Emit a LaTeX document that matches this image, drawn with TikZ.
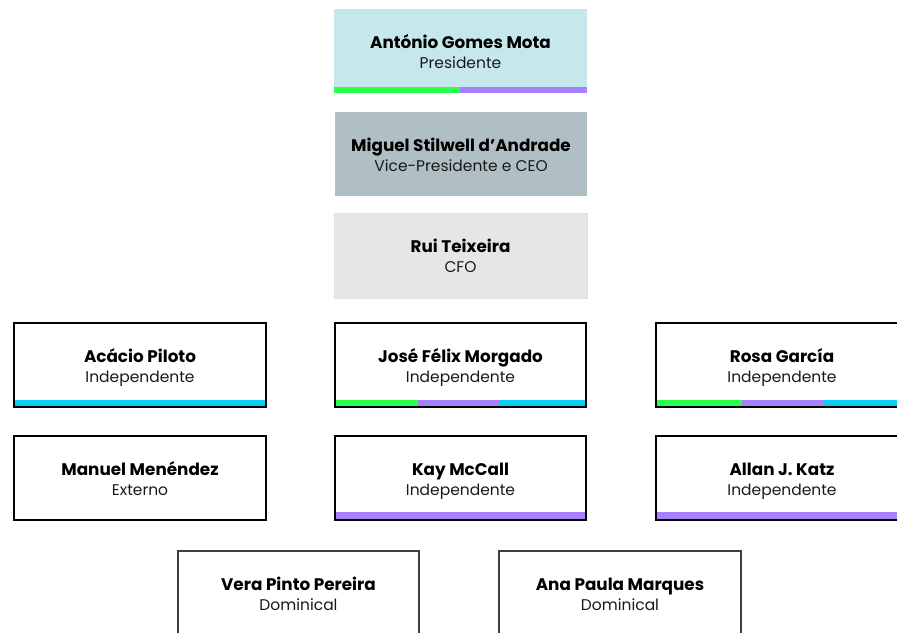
\documentclass[tikz,border=0pt]{standalone}
\usepackage{fontspec}
\setmainfont{Poppins}
\definecolor{topfill}{HTML}{C6E7EC}
\definecolor{vpfill}{HTML}{AFBFC3}
\definecolor{cfofill}{HTML}{E6E6E6}
\definecolor{bgreen}{HTML}{2BFF4C}
\definecolor{bpurple}{HTML}{A680FF}
\definecolor{bcyan}{HTML}{0ACDF2}
\definecolor{slate}{HTML}{36434B}
\newcommand\card[8]{% id, style, x, y, w, h, name, role
  \node[#2, anchor=north west, minimum width=#5pt, minimum height=#6pt,
        inner sep=0pt, outer sep=0pt] (#1) at (#3,#4) {};
  \node[nametext] (#1-name) at ([yshift=-39pt]#1.north) {#7};
  \node[roletext] (#1-role) at ([yshift=-59.5pt]#1.north) {#8};
}
\begin{document}
\begin{tikzpicture}[x=1pt,y=-1pt,
  nametext/.style={anchor=base, inner sep=0pt, font=\bfseries\fontsize{16.8}{19}\selectfont},
  roletext/.style={anchor=base, inner sep=0pt, font=\fontsize{15.5}{18}\selectfont, text=black!90},
  topbox/.style={fill=topfill},
  vpbox/.style={fill=vpfill},
  cfobox/.style={fill=cfofill, draw=black!12, line width=0.6pt},
  member/.style={fill=white, draw=black, line width=2pt},
  dommember/.style={fill=white, draw=slate, line width=2pt}]
\useasboundingbox (0,0) rectangle (897,632);
\clip (0,0) rectangle (897,632);

% top three
\card{pres}{topbox}{334}{9}{253}{84}{António Gomes Mota}{Presidente}
\fill[bgreen] (334,87) rectangle (460,93);
\fill[bpurple] (460,87) rectangle (587,93);
\card{vp}{vpbox}{335}{112}{252}{84}{Miguel Stilwell d’Andrade}{Vice-Presidente e CEO}
\card{cfo}{cfobox}{334}{213}{253}{85}{Rui Teixeira}{CFO}

% row 1
\card{acacio}{member}{14}{323}{252}{84}{Acácio Piloto}{Independente}
\fill[bcyan] (15,400) rectangle (265,406);
\card{jose}{member}{335}{323}{251}{84}{José Félix Morgado}{Independente}
\fill[bgreen] (336,400) rectangle (418,406);
\fill[bpurple] (418,400) rectangle (500,406);
\fill[bcyan] (500,400) rectangle (585,406);
\card{rosa}{member}{656}{323}{252}{84}{Rosa García}{Independente}
\fill[bgreen] (657,400) rectangle (742,406);
\fill[bpurple] (742,400) rectangle (824,406);
\fill[bcyan] (824,400) rectangle (907,406);

% row 2
\card{manuel}{member}{14}{436}{252}{84}{Manuel Menéndez}{Externo}
\card{kay}{member}{335}{436}{251}{84}{Kay McCall}{Independente}
\fill[bpurple] (336,512) rectangle (585,519);
\card{allan}{member}{656}{436}{252}{84}{Allan J. Katz}{Independente}
\fill[bpurple] (657,512) rectangle (907,519);

% row 3
\card{vera}{dommember}{178}{551}{241}{86}{Vera Pinto Pereira}{Dominical}
\card{ana}{dommember}{499}{551}{242}{86}{Ana Paula Marques}{Dominical}
\end{tikzpicture}
\end{document}
